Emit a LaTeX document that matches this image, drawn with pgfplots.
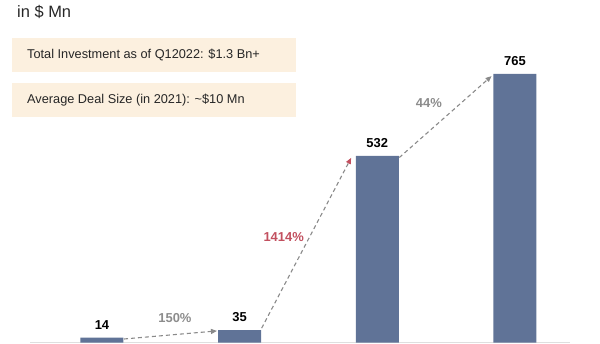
\documentclass[border=0pt]{standalone}
\usepackage{pgfplots}
\pgfplotsset{compat=1.18}
\usetikzlibrary{arrows.meta}
\usepackage{fontspec}
\setmainfont{Liberation Sans}
\definecolor{barc}{HTML}{607397}
\definecolor{boxc}{HTML}{FCF0DF}
\definecolor{textc}{HTML}{262626}
\definecolor{greyc}{HTML}{8C8C8C}
\definecolor{redc}{HTML}{C2505F}
\definecolor{arrc}{HTML}{8A8A8A}
\begin{document}
\begin{tikzpicture}[x=1bp,y=1bp]
\useasboundingbox (0,0) rectangle (600,343);
\fill[boxc] (12,305) rectangle (296,271);
\fill[boxc] (12,260) rectangle (296,226);
\node[anchor=west, inner sep=0, text=textc, font=\fontsize{12.8}{14}\selectfont] at (27,288) {Total Investment as of Q12022: \$1.3 Bn+};
\node[anchor=west, inner sep=0, text=textc, font=\fontsize{12.8}{14}\selectfont] at (27,243) {Average Deal Size (in 2021): \textasciitilde\$10 Mn};
\node[anchor=west, inner sep=0, text=textc, font=\fontsize{16.5}{18}\selectfont] at (17,331) {in \$ Mn};
\begin{axis}[
  at={(30bp,0.5bp)}, anchor=south west, scale only axis,
  width=540bp, height=300bp,
  xmin=-0.523, xmax=3.40, ymin=0, ymax=854.7,
  axis y line=none, axis x line*=bottom,
  x axis line style={draw=gray!25, -},
  xtick=\empty, ytick=\empty, clip=false,
  nodes near coords={\bfseries\fontsize{13}{15}\selectfont\pgfmathprintnumber[assume math mode=true]{\pgfplotspointmeta}},
  every node near coord/.append style={anchor=center, yshift=13bp, text=black},
]
\addplot[ybar, bar width=43bp, fill=barc, draw=none] coordinates {(0,14) (1,35) (2,532) (3,765)};
\draw[arrc, line width=1.1bp, dash pattern=on 4bp off 3bp, -{Triangle[length=6bp,width=5bp,color=arrc]}] (axis cs:0.16,10) -- (axis cs:0.835,33);
\draw[arrc, line width=1.1bp, dash pattern=on 4bp off 3bp, -{Triangle[length=6bp,width=5bp,color=redc]}] (axis cs:1.16,41) -- (axis cs:1.81,526);
\draw[arrc, line width=1.1bp, dash pattern=on 4bp off 3bp, -{Triangle[length=6bp,width=5bp,color=arrc]}] (axis cs:2.16,527) -- (axis cs:2.83,759);
\node[text=greyc, font=\bfseries\fontsize{13}{15}\selectfont] at (axis cs:0.53,70) {150\%};
\node[text=redc, font=\bfseries\fontsize{13}{15}\selectfont] at (axis cs:1.32,300) {1414\%};
\node[text=greyc, font=\bfseries\fontsize{13}{15}\selectfont] at (axis cs:2.375,682) {44\%};
\end{axis}
\end{tikzpicture}
\end{document}
